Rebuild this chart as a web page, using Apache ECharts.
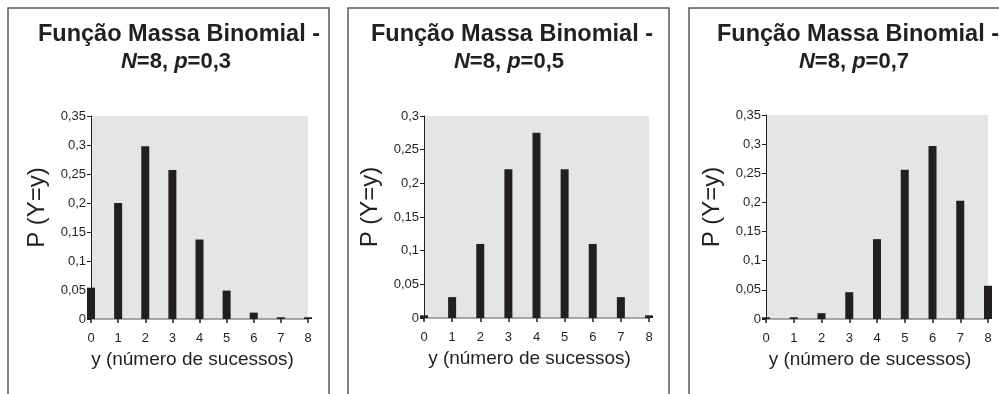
<!DOCTYPE html>
<html>
<head>
<meta charset="utf-8">
<script src="https://cdn.jsdelivr.net/npm/echarts@6/dist/echarts.min.js"></script>
<style>html,body{margin:0;padding:0;background:#fff;}#c{width:999px;height:394px;}</style>
</head>
<body>
<div id="c"></div>
<script>
// ---- data ----
const successes = [0, 1, 2, 3, 4, 5, 6, 7, 8];
const probP03 = [0.054, 0.200, 0.298, 0.257, 0.137, 0.049, 0.011, 0.003, 0.003];
const probP05 = [0.004, 0.031, 0.110, 0.221, 0.275, 0.221, 0.110, 0.031, 0.004];
const probP07 = [0.003, 0.003, 0.010, 0.046, 0.137, 0.256, 0.297, 0.203, 0.057];
const titleLine1 = 'Função Massa Binomial -';
const pLabels = ['0,3', '0,5', '0,7'];
const yMaxes = [0.35, 0.3, 0.35];
const xAxisName = 'y (número de sucessos)';
const yAxisName = 'P (Y=y)';

const seriesData = [probP03, probP05, probP07];

// ---- layout ----
const panels = [
  { left: 91, width: 217, top: 116, height: 203, t1: 174, t2: 171, box: [8, 329] },
  { left: 424, width: 225, top: 116, height: 202, t1: 507, t2: 504, box: [348, 669] },
  { left: 766, width: 222, top: 115, height: 204, t1: 853, t2: 849, box: [689, 1010] }
];
const ink = '#231f20';
const font = 'Liberation Sans, Arial, sans-serif';

const chart = echarts.init(document.getElementById('c'), null, { renderer: 'canvas' });

const titles = [];
const grids = [];
const xAxes = [];
const yAxes = [];
const series = [];
const graphics = [];

panels.forEach((pn, i) => {
  titles.push({
    text: titleLine1, left: pn.t1, top: 18, textAlign: 'center',
    textStyle: { fontFamily: font, fontSize: 23.5, fontWeight: 'bold', color: ink }
  });
  titles.push({
    text: '{i|N}{n|=8, }{i|p}{n|=' + pLabels[i] + '}', left: pn.t2, top: 46, textAlign: 'center',
    textStyle: {
      fontFamily: font, fontSize: 22, fontWeight: 'bold', color: ink,
      rich: {
        i: { fontFamily: font, fontSize: 22, fontWeight: 'bold', fontStyle: 'italic', color: ink },
        n: { fontFamily: font, fontSize: 22, fontWeight: 'bold', color: ink }
      }
    }
  });
  grids.push({
    left: pn.left, top: pn.top, width: pn.width, height: pn.height,
    show: true, backgroundColor: '#e4e5e7', borderWidth: 0, containLabel: false
  });
  xAxes.push({
    gridIndex: i, type: 'value', min: 0, max: 8, interval: 1,
    name: xAxisName, nameLocation: 'middle', nameGap: 29,
    nameTextStyle: { fontFamily: font, fontSize: 19, color: ink, padding: [0, 14, 0, 0] },
    axisLine: { show: true, onZero: false, lineStyle: { color: '#8c8c8c', width: 1.5 } },
    axisTick: { show: true, length: 4, lineStyle: { color: ink, width: 1.5 } },
    axisLabel: { fontFamily: font, fontSize: 13, color: ink, margin: 13 },
    splitLine: { show: false }
  });
  yAxes.push({
    gridIndex: i, type: 'value', min: 0, max: yMaxes[i], interval: 0.05,
    name: yAxisName, nameLocation: 'middle', nameGap: 42, nameRotate: 90,
    nameTextStyle: { fontFamily: font, fontSize: 24, color: ink, padding: [0, 0, 0, 20] },
    axisLine: { show: true, lineStyle: { color: ink, width: 1 } },
    axisTick: { show: true, length: 4, lineStyle: { color: ink, width: 1 } },
    axisLabel: {
      fontFamily: font, fontSize: 13, color: ink, margin: 5,
      formatter: v => String(+v.toFixed(2)).replace('.', ',')
    },
    splitLine: { show: false }
  });
  series.push({
    type: 'bar', xAxisIndex: i, yAxisIndex: i, barWidth: 8, clip: false,
    itemStyle: { color: ink },
    data: successes.map((s, k) => [s, seriesData[i][k]]),
    z: 3
  });
  graphics.push({
    type: 'rect', silent: true, z: -1,
    shape: { x: pn.box[0], y: 8, width: pn.box[1] - pn.box[0], height: 420 },
    style: { fill: 'none', stroke: '#5a5a5a', lineWidth: 1.5 }
  });
});

chart.setOption({
  animation: false,
  backgroundColor: '#ffffff',
  title: titles,
  grid: grids,
  xAxis: xAxes,
  yAxis: yAxes,
  series: series,
  graphic: graphics
});
</script>
</body>
</html>
